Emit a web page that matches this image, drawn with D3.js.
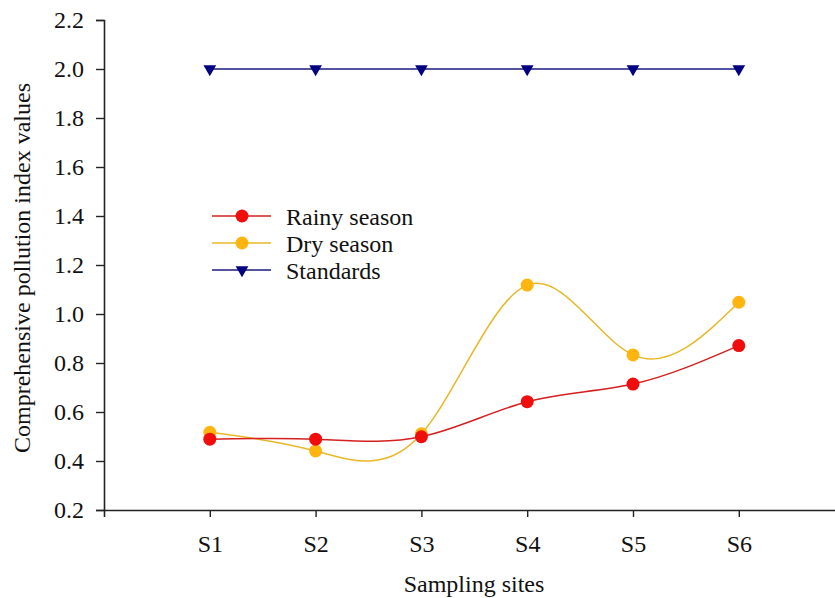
<!DOCTYPE html>
<html>
<head>
<meta charset="utf-8">
<script src="https://cdn.jsdelivr.net/npm/d3@7"></script>
<style>
  body { margin: 0; background: #fff; }
</style>
</head>
<body>
<div id="chart"></div>
<script>
const sites = ['S1', 'S2', 'S3', 'S4', 'S5', 'S6']
const rainy = [0.489, 0.489, 0.499, 0.642, 0.714, 0.871]
const dry = [0.517, 0.441, 0.511, 1.118, 0.833, 1.048]
const standards = [2.0, 2.0, 2.0, 2.0, 2.0, 2.0]
const yTicks = [0.2, 0.4, 0.6, 0.8, 1.0, 1.2, 1.4, 1.6, 1.8, 2.0, 2.2]

const width = 835
const height = 598
const margin = { top: 20, left: 104, bottom: 88, right: 0 }
const fontSize = '24px'
const fontFamily = "'Liberation Serif', 'Times New Roman', 'DejaVu Serif', serif"

const svg = d3.select('#chart')
  .append('svg')
  .attr('width', width)
  .attr('height', height)

const x = d3.scaleLinear().domain([0, 7]).range([margin.left, margin.left + 7 * 105.8])
const y = d3.scaleLinear().domain([0.2, 2.2]).range([height - margin.bottom, margin.top])

const xAxis = d3.axisBottom(x)
  .tickValues(d3.range(1, sites.length + 1))
  .tickFormat(d => sites[d - 1])
  .tickSize(7)
  .tickPadding(18)
const yAxis = d3.axisLeft(y)
  .tickValues(yTicks)
  .tickFormat(d3.format('.1f'))
  .tickSize(8)
  .tickPadding(12)

const gx = svg.append('g')
  .attr('transform', 'translate(0,' + y(0.2) + ')')
  .call(xAxis)
const gy = svg.append('g')
  .attr('transform', 'translate(' + margin.left + ',0)')
  .call(yAxis)

;[gx, gy].forEach(g => {
  g.attr('font-family', null).attr('font-size', null)
  g.select('.domain').attr('stroke', '#222').attr('stroke-width', 1.6)
  g.selectAll('.tick line').attr('stroke', '#222').attr('stroke-width', 1.4)
  g.selectAll('.tick text')
    .style('font-family', fontFamily)
    .style('font-size', fontSize)
    .attr('fill', '#111')
})

svg.append('text')
  .attr('transform', 'translate(30,268) rotate(-90)')
  .attr('text-anchor', 'middle')
  .style('font-family', fontFamily)
  .style('font-size', fontSize)
  .attr('fill', '#111')
  .text('Comprehensive pollution index values')

svg.append('text')
  .attr('x', 474)
  .attr('y', 592)
  .attr('text-anchor', 'middle')
  .style('font-family', fontFamily)
  .style('font-size', fontSize)
  .attr('fill', '#111')
  .text('Sampling sites')

const series = [
  { name: 'Rainy season', values: rainy, line: '#d42020', fill: '#f20d0d', marker: 'circle', curve: d3.curveNatural },
  { name: 'Dry season', values: dry, line: '#e8b828', fill: '#ffb50f', marker: 'circle', curve: d3.curveNatural },
  { name: 'Standards', values: standards, line: '#1a1a80', fill: '#000080', marker: 'triangle', curve: d3.curveLinear }
]

const tri = d3.symbol().type(d3.symbolTriangle).size(70)

function drawMarker (g, s, cx, cy) {
  if (s.marker === 'circle') {
    g.append('circle').attr('cx', cx).attr('cy', cy).attr('r', 6.5).attr('fill', s.fill)
  } else {
    g.append('path').attr('d', tri)
      .attr('transform', 'translate(' + cx + ',' + cy + ') rotate(180)')
      .attr('fill', s.fill)
  }
}

// standards first, then dry, then rainy on top
;[series[2], series[1], series[0]].forEach(s => {
  const line = d3.line().curve(s.curve).x((d, i) => x(i + 1)).y(d => y(d))
  const g = svg.append('g')
  g.append('path')
    .datum(s.values)
    .attr('d', line)
    .attr('fill', 'none')
    .attr('stroke', s.line)
    .attr('stroke-width', 1.5)
  s.values.forEach((v, i) => drawMarker(g, s, x(i + 1), y(v)))
})

// legend
const legend = svg.append('g')
series.forEach((s, i) => {
  const ly = 216 + i * 27
  legend.append('line')
    .attr('x1', 212).attr('x2', 271)
    .attr('y1', ly).attr('y2', ly)
    .attr('stroke', s.line).attr('stroke-width', 1.5)
  drawMarker(legend, s, 242, ly)
  legend.append('text')
    .attr('x', 286).attr('y', ly + 9)
    .style('font-family', fontFamily)
    .style('font-size', fontSize)
    .attr('fill', '#111')
    .text(s.name)
})
</script>
</body>
</html>
